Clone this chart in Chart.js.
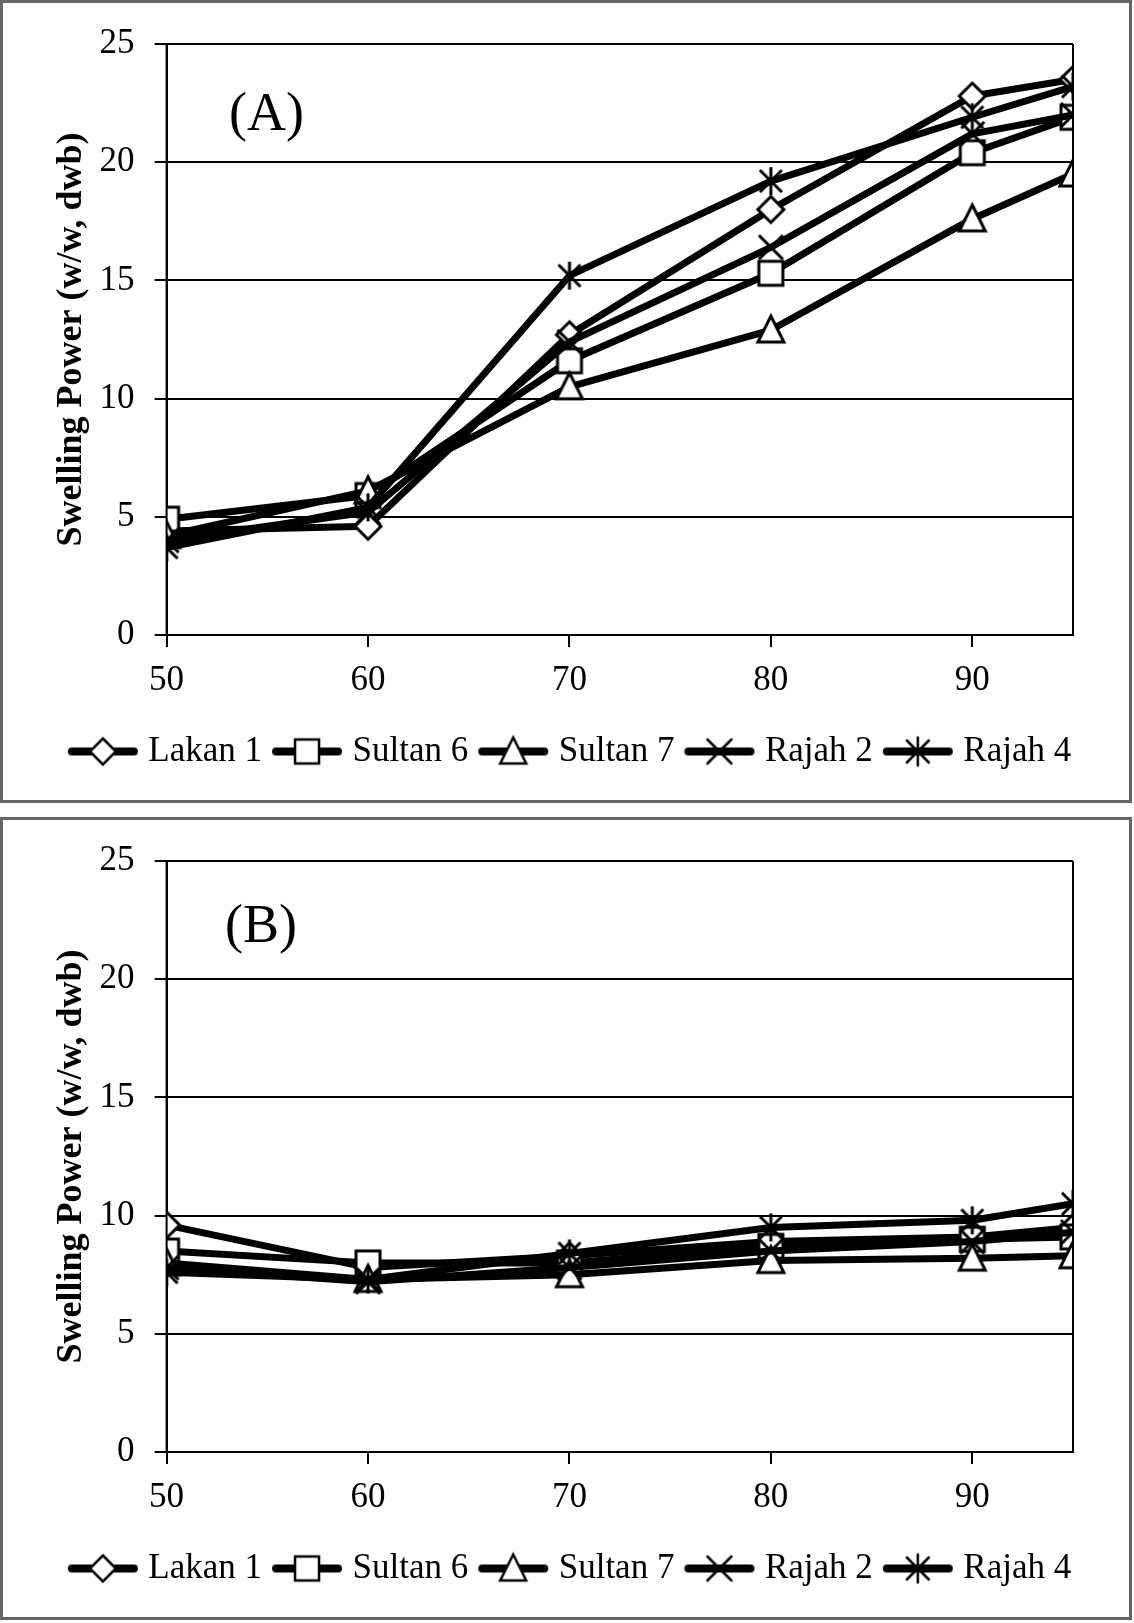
<!DOCTYPE html>
<html>
<head>
<meta charset="utf-8">
<script src="https://cdn.jsdelivr.net/npm/chart.js@4.4.1/dist/chart.umd.min.js"></script>
<style>
  html, body { margin: 0; padding: 0; background: #fff; }
  body { width: 1134px; height: 1623px; position: relative; font-family: "Liberation Serif", "Times New Roman", serif; }
  .panel { position: absolute; left: 0; width: 1132px; height: 803px; box-sizing: border-box; border: 3px solid #666; background: #fff; }
  .panel canvas { display: block; }
  .tag { position: absolute; font-size: 54px; line-height: 54px; color: #000; }
</style>
</head>
<body>
<div class="panel" style="top:0"><canvas id="chartA" width="1126" height="797"></canvas></div>
<div class="panel" style="top:817px"><canvas id="chartB" width="1126" height="797"></canvas></div>
<div class="tag" style="left:229px;top:85px">(A)</div>
<div class="tag" style="left:225px;top:897px">(B)</div>
<script>
// temperatures (°C) on the x axis
const temperatures = [50, 60, 70, 80, 90, 95];
const varieties = ['Lakan 1', 'Sultan 6', 'Sultan 7', 'Rajah 2', 'Rajah 4'];
const markers = ['diamond', 'square', 'triangle', 'cross', 'asterisk'];

// panel (A)
const lakan1A = [4.4, 4.6, 12.7, 18.0, 22.8, 23.5];
const sultan6A = [4.9, 5.9, 11.6, 15.3, 20.4, 21.9];
const sultan7A = [4.2, 6.1, 10.5, 12.9, 17.6, 19.5];
const rajah2A = [4.0, 5.2, 12.4, 16.4, 21.2, 22.0];
const rajah4A = [3.7, 5.4, 15.2, 19.2, 21.9, 23.2];

// panel (B)
const lakan1B = [9.6, 7.8, 8.3, 8.9, 9.1, 9.5];
const sultan6B = [8.5, 8.0, 8.0, 8.7, 9.0, 9.1];
const sultan7B = [8.0, 7.3, 7.5, 8.1, 8.2, 8.3];
const rajah2B = [7.8, 7.2, 7.8, 8.5, 8.9, 9.3];
const rajah4B = [7.6, 7.3, 8.4, 9.5, 9.8, 10.5];

const yTitle = 'Swelling Power (w/w, dwb)';
const serif = '"Liberation Serif", "Times New Roman", serif';

function drawMarker(g, kind, x, y, lw) {
  g.lineWidth = lw;
  g.strokeStyle = '#000';
  g.fillStyle = '#fff';
  g.beginPath();
  if (kind === 'diamond') {
    g.moveTo(x, y - 13); g.lineTo(x + 13, y); g.lineTo(x, y + 13); g.lineTo(x - 13, y); g.closePath();
    g.fill();
  } else if (kind === 'square') {
    g.rect(x - 12, y - 12, 24, 24);
    g.fill();
  } else if (kind === 'triangle') {
    g.moveTo(x, y - 14); g.lineTo(x + 13, y + 12); g.lineTo(x - 13, y + 12); g.closePath();
    g.fill();
  } else if (kind === 'cross') {
    g.moveTo(x - 12, y - 12); g.lineTo(x + 12, y + 12);
    g.moveTo(x + 12, y - 12); g.lineTo(x - 12, y + 12);
  } else {
    g.moveTo(x - 11, y - 11); g.lineTo(x + 11, y + 11);
    g.moveTo(x + 11, y - 11); g.lineTo(x - 11, y + 11);
    g.moveTo(x, y - 14); g.lineTo(x, y + 14);
  }
  g.stroke();
}

function pointImage(kind) {
  const c = document.createElement('canvas');
  c.width = 38; c.height = 38;
  drawMarker(c.getContext('2d'), kind, 19, 19, 3);
  return c;
}

function legendImage(kind) {
  const c = document.createElement('canvas');
  c.width = 72; c.height = 36;
  const g = c.getContext('2d');
  g.strokeStyle = '#000';
  g.lineWidth = 8;
  g.lineCap = 'round';
  g.beginPath(); g.moveTo(5, 18); g.lineTo(67, 18); g.stroke();
  drawMarker(g, kind, 36, 18, 2.5);
  return c;
}

// left and right edges of the plot area, drawn over the markers
const frameSides = {
  id: 'frameSides',
  afterDatasetsDraw(chart) {
    const a = chart.chartArea, g = chart.ctx;
    g.save();
    g.strokeStyle = '#000';
    g.lineWidth = 2;
    g.beginPath();
    g.moveTo(a.left, a.top); g.lineTo(a.left, a.bottom);
    g.moveTo(a.right, a.top); g.lineTo(a.right, a.bottom);
    g.stroke();
    g.restore();
  }
};

function makeChart(id, series) {
  const datasets = series.map((vals, i) => ({
    label: varieties[i],
    data: temperatures.map((t, j) => ({ x: t, y: vals[j] })),
    borderColor: '#000',
    backgroundColor: '#fff',
    borderWidth: 7,
    borderJoinStyle: 'round',
    borderCapStyle: 'round',
    pointStyle: pointImage(markers[i]),
    pointRadius: 12,
    pointHoverRadius: 12,
    order: varieties.length - i,
    fill: false,
    tension: 0
  }));

  return new Chart(document.getElementById(id), {
    type: 'line',
    data: { datasets },
    plugins: [frameSides],
    options: {
      responsive: false,
      animation: false,
      layout: { padding: { left: 14, right: 0, top: 39.4, bottom: 21 } },
      scales: {
        x: {
          type: 'linear',
          min: 50,
          max: 95,
          afterFit: s => { s.height = 82; },
          ticks: { stepSize: 10, includeBounds: false, padding: 13, color: '#000', font: { family: serif, size: 35 } },
          grid: { drawOnChartArea: false, drawTicks: true, tickLength: 12, color: '#000', lineWidth: 2 },
          border: { color: '#000', width: 2 }
        },
        y: {
          min: 0,
          max: 25,
          afterFit: s => { s.width = 149.6; },
          ticks: { stepSize: 5, padding: 20, color: '#000', font: { family: serif, size: 35 } },
          grid: { color: '#000', lineWidth: 2, drawTicks: true, tickLength: 12 },
          border: { color: '#000', width: 2 },
          title: { display: true, text: yTitle, color: '#000', padding: { top: 33, bottom: 0 }, font: { family: serif, size: 36, weight: 'bold' } }
        },
        // empty right-hand axis, only reserves the margin right of the plot
        yRight: {
          position: 'right',
          min: 0,
          max: 25,
          afterFit: s => { s.width = 56; },
          ticks: { display: false },
          grid: { display: false, drawTicks: false },
          border: { display: false }
        }
      },
      plugins: {
        tooltip: { enabled: false },
        legend: {
          position: 'bottom',
          labels: {
            usePointStyle: true,
            pointStyleWidth: 56,
            padding: 17,
            color: '#000',
            font: { family: serif, size: 35 },
            generateLabels: chart => chart.data.datasets.map((ds, i) => ({
              text: ds.label,
              datasetIndex: i,
              pointStyle: legendImage(markers[i]),
              fillStyle: '#fff',
              strokeStyle: '#000',
              lineWidth: 0,
              hidden: false
            }))
          }
        }
      }
    }
  });
}

makeChart('chartA', [lakan1A, sultan6A, sultan7A, rajah2A, rajah4A]);
makeChart('chartB', [lakan1B, sultan6B, sultan7B, rajah2B, rajah4B]);
</script>
</body>
</html>
